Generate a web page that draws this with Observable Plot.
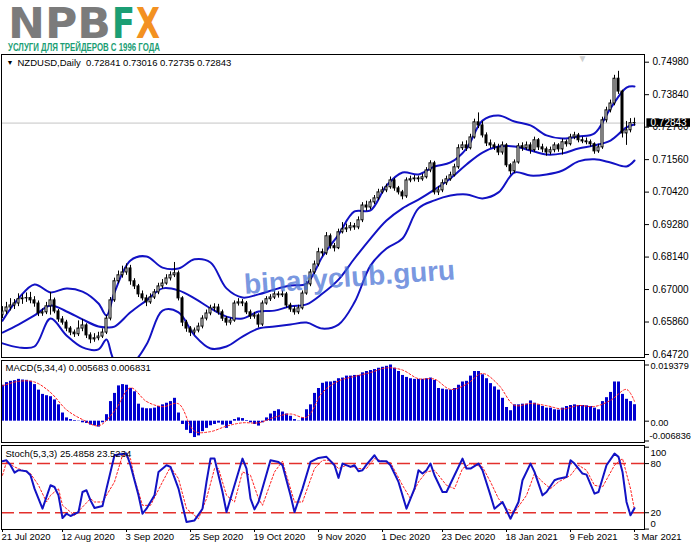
<!DOCTYPE html>
<html><head><meta charset="utf-8">
<script src="https://cdn.jsdelivr.net/npm/d3@7"></script>
<script src="https://cdn.jsdelivr.net/npm/@observablehq/plot@0.6"></script>
<style>
body{margin:0;background:#fff;}
#wrap{position:relative;width:691px;height:549px;overflow:hidden;background:#fff;font-family:"Liberation Sans",Arial,sans-serif;}
#wrap svg{position:absolute;left:0;}
#wm{position:absolute;left:244px;top:269px;font:bold 28px "Liberation Sans",Arial,sans-serif;color:rgba(70,112,212,0.72);transform:rotate(-4deg);transform-origin:left center;white-space:nowrap;pointer-events:none;}
</style></head><body><div id="wrap">
<svg width="200" height="60" style="top:0">
<text x="8" y="38" font-family="DejaVu Sans" font-weight="bold" font-size="42" fill="#7b7b7b" textLength="103" lengthAdjust="spacingAndGlyphs">NPB</text>
<text x="112" y="38" font-family="DejaVu Sans" font-weight="bold" font-size="42" fill="#1b9e74" textLength="23" lengthAdjust="spacingAndGlyphs">F</text>
<text x="136" y="38" font-family="DejaVu Sans" font-weight="bold" font-size="42" fill="#f39121" textLength="24" lengthAdjust="spacingAndGlyphs">X</text>
<text x="8" y="51" font-family="Liberation Sans" font-weight="bold" font-size="11" fill="#1b9e74" textLength="152" lengthAdjust="spacingAndGlyphs">УСЛУГИ ДЛЯ ТРЕЙДЕРОВ С 1996 ГОДА</text>
</svg>
</div>
<script>
// ---- price candles (NZDUSD daily) ----
const open = [0.6610,0.6623,0.6637,0.6644,0.6651,0.6666,0.6669,0.6670,0.6662,0.6651,
0.6616,0.6620,0.6641,0.6662,0.6623,0.6595,0.6584,0.6563,0.6549,0.6543,
0.6563,0.6574,0.6539,0.6525,0.6529,0.6535,0.6549,0.6598,0.6662,0.6729,
0.6750,0.6760,0.6774,0.6729,0.6711,0.6683,0.6669,0.6655,0.6672,0.6690,
0.6711,0.6721,0.6739,0.6750,0.6757,0.6669,0.6584,0.6563,0.6549,0.6556,
0.6570,0.6598,0.6616,0.6634,0.6637,0.6620,0.6598,0.6584,0.6591,0.6651,
0.6655,0.6651,0.6620,0.6605,0.6609,0.6577,0.6651,0.6666,0.6672,0.6683,
0.6680,0.6683,0.6644,0.6630,0.6620,0.6634,0.6686,0.6718,0.6760,0.6788,
0.6831,0.6827,0.6887,0.6852,0.6845,0.6901,0.6911,0.6915,0.6922,0.6918,
0.6943,0.6995,0.6988,0.7006,0.7020,0.7041,0.7048,0.7059,0.7083,0.7055,
0.7041,0.7027,0.7083,0.7087,0.7090,0.7087,0.7094,0.7118,0.7143,0.7041,
0.7048,0.7073,0.7087,0.7101,0.7129,0.7196,0.7206,0.7196,0.7234,0.7287,
0.7276,0.7241,0.7213,0.7206,0.7199,0.7181,0.7206,0.7136,0.7115,0.7146,
0.7203,0.7196,0.7206,0.7189,0.7224,0.7199,0.7192,0.7181,0.7189,0.7206,
0.7192,0.7217,0.7210,0.7234,0.7241,0.7224,0.7220,0.7217,0.7210,0.7185,
0.7199,0.7294,0.7329,0.7353,0.7440,0.7395,0.7248,0.7259,0.72841];
const high = [0.6640,0.6655,0.6668,0.6665,0.6685,0.6682,0.6688,0.6690,0.6675,0.6660,
0.6632,0.6655,0.6690,0.6670,0.6630,0.6605,0.6592,0.6570,0.6558,0.6590,
0.6595,0.6580,0.6548,0.6545,0.6550,0.6562,0.6610,0.6672,0.6740,0.6765,
0.6782,0.6790,0.6785,0.6738,0.6718,0.6695,0.6680,0.6685,0.6700,0.6722,
0.6735,0.6752,0.6762,0.6795,0.6765,0.6675,0.6592,0.6570,0.6565,0.6582,
0.6608,0.6628,0.6645,0.6650,0.6648,0.6628,0.6605,0.6600,0.6660,0.6668,
0.6665,0.6658,0.6628,0.6620,0.6615,0.6660,0.6675,0.6682,0.6695,0.6692,
0.6695,0.6690,0.6652,0.6640,0.6645,0.6695,0.6728,0.6770,0.6800,0.6845,
0.6842,0.6900,0.6895,0.6862,0.6912,0.6935,0.6930,0.6935,0.6932,0.6955,
0.7005,0.7010,0.7015,0.7030,0.7052,0.7060,0.7070,0.7095,0.7090,0.7062,
0.7048,0.7092,0.7098,0.7100,0.7098,0.7105,0.7128,0.7152,0.7150,0.7062,
0.7085,0.7098,0.7112,0.7140,0.7208,0.7218,0.7222,0.7245,0.7298,0.7320,
0.7290,0.7250,0.7225,0.7215,0.7210,0.7218,0.7212,0.7142,0.7155,0.7212,
0.7215,0.7218,0.7215,0.7235,0.7230,0.7210,0.7200,0.7200,0.7215,0.7212,
0.7228,0.7225,0.7245,0.7252,0.7248,0.7235,0.7232,0.7225,0.7215,0.7210,
0.7305,0.7340,0.7365,0.7452,0.7466,0.7400,0.7290,0.7300,0.73016];
const low = [0.6598,0.6612,0.6625,0.6630,0.6640,0.6648,0.6655,0.6650,0.6638,0.6605,
0.6606,0.6612,0.6610,0.6615,0.6585,0.6575,0.6552,0.6538,0.6532,0.6535,
0.6552,0.6528,0.6510,0.6515,0.6520,0.6528,0.6542,0.6590,0.6655,0.6720,
0.6740,0.6750,0.6715,0.6700,0.6672,0.6660,0.6640,0.6648,0.6665,0.6682,
0.6702,0.6715,0.6730,0.6742,0.6660,0.6570,0.6550,0.6535,0.6540,0.6548,
0.6562,0.6590,0.6608,0.6622,0.6610,0.6588,0.6572,0.6575,0.6585,0.6642,
0.6640,0.6612,0.6595,0.6596,0.6565,0.6570,0.6645,0.6658,0.6665,0.6670,
0.6672,0.6635,0.6620,0.6610,0.6612,0.6628,0.6680,0.6710,0.6752,0.6780,
0.6815,0.6820,0.6842,0.6832,0.6840,0.6895,0.6900,0.6905,0.6908,0.6910,
0.6935,0.6975,0.6980,0.6998,0.7012,0.7035,0.7040,0.7052,0.7045,0.7032,
0.7015,0.7020,0.7075,0.7078,0.7076,0.7080,0.7088,0.7110,0.7032,0.7030,
0.7040,0.7065,0.7080,0.7095,0.7122,0.7188,0.7185,0.7190,0.7228,0.7265,
0.7232,0.7202,0.7195,0.7188,0.7170,0.7172,0.7128,0.7102,0.7108,0.7140,
0.7185,0.7188,0.7175,0.7182,0.7188,0.7180,0.7168,0.7172,0.7180,0.7182,
0.7172,0.7200,0.7204,0.7226,0.7215,0.7212,0.7208,0.7200,0.7175,0.7178,
0.7192,0.7285,0.7320,0.7345,0.7385,0.7232,0.7206,0.7250,0.72735];
const close = [0.6623,0.6637,0.6644,0.6651,0.6666,0.6669,0.6670,0.6662,0.6651,0.6616,
0.6620,0.6641,0.6662,0.6623,0.6595,0.6584,0.6563,0.6549,0.6543,0.6563,
0.6574,0.6539,0.6525,0.6529,0.6535,0.6549,0.6598,0.6662,0.6729,0.6750,
0.6760,0.6774,0.6729,0.6711,0.6683,0.6669,0.6655,0.6672,0.6690,0.6711,
0.6721,0.6739,0.6750,0.6757,0.6669,0.6584,0.6563,0.6549,0.6556,0.6570,
0.6598,0.6616,0.6634,0.6637,0.6620,0.6598,0.6584,0.6591,0.6651,0.6655,
0.6651,0.6620,0.6605,0.6609,0.6577,0.6651,0.6666,0.6672,0.6683,0.6680,
0.6683,0.6644,0.6630,0.6620,0.6634,0.6686,0.6718,0.6760,0.6788,0.6831,
0.6827,0.6887,0.6852,0.6845,0.6901,0.6911,0.6915,0.6922,0.6918,0.6943,
0.6995,0.6988,0.7006,0.7020,0.7041,0.7048,0.7059,0.7083,0.7055,0.7041,
0.7027,0.7083,0.7087,0.7090,0.7087,0.7094,0.7118,0.7143,0.7041,0.7048,
0.7073,0.7087,0.7101,0.7129,0.7196,0.7206,0.7196,0.7234,0.7287,0.7276,
0.7241,0.7213,0.7206,0.7199,0.7181,0.7206,0.7136,0.7115,0.7146,0.7203,
0.7196,0.7206,0.7189,0.7224,0.7199,0.7192,0.7181,0.7189,0.7206,0.7192,
0.7217,0.7210,0.7234,0.7241,0.7224,0.7220,0.7217,0.7210,0.7185,0.7199,
0.7294,0.7329,0.7353,0.7440,0.7395,0.7248,0.7259,0.7284,0.72843];

// ---- Bollinger bands (read at these bar indices) ----
const bbIdx = [0,4,8,12,16,20,24,26,28,32,36,40,44,48,52,56,60,64,68,72,76,80,84,88,92,96,100,104,108,112,116,120,124,128,132,136,140,144,148,152,156,158];
const bbUpper = [0.6591,0.6669,0.6718,0.6690,0.6704,0.6693,0.6651,0.6609,0.6690,0.6802,0.6816,
0.6777,0.6774,0.6806,0.6795,0.6704,0.6672,0.6683,0.6700,0.6714,0.6721,
0.6816,0.6893,0.6974,0.6978,0.7065,0.7111,0.7104,0.7132,0.7146,0.7195,
0.7293,0.7311,0.7290,0.7276,0.7241,0.7230,0.7237,0.7248,0.7336,0.7409,0.7413];
const bbMid = [0.6549,0.6577,0.6609,0.6644,0.6623,0.6595,0.6570,0.6567,0.6570,0.6620,0.6662,
0.6704,0.6697,0.6669,0.6634,0.6605,0.6598,0.6623,0.6626,0.6641,0.6648,
0.6686,0.6735,0.6809,0.6879,0.6942,0.6985,0.7016,0.7051,0.7090,0.7139,
0.7181,0.7202,0.7202,0.7188,0.7174,0.7178,0.7195,0.7206,0.7223,0.7269,0.7279];
const bbLower = [0.6511,0.6497,0.6500,0.6598,0.6539,0.6497,0.6490,0.6525,0.6451,0.6437,0.6507,
0.6626,0.6620,0.6539,0.6493,0.6500,0.6535,0.6563,0.6570,0.6577,0.6584,
0.6563,0.6577,0.6655,0.6784,0.6844,0.6879,0.6985,0.7013,0.7030,0.7034,
0.7020,0.7041,0.7111,0.7100,0.7104,0.7118,0.7150,0.7157,0.7146,0.7132,0.7153];
const priceTicks = [0.7498,0.7384,0.7270,0.7156,0.7042,0.6928,0.6814,0.6700,0.6586,0.6472];

// ---- MACD(5,34,4) ----
const macdHist = [0.01240,0.01330,0.01375,0.01397,0.01443,0.01420,0.01409,0.01375,0.01262,0.01071,
0.00924,0.00879,0.00845,0.00733,0.00564,0.00282,0.00113,0.00056,0.00023,0.00010,
-0.00056,-0.00079,-0.00135,-0.00158,-0.00203,-0.00056,0.00225,0.00676,0.00958,0.01217,
0.01262,0.01240,0.01127,0.01014,0.00586,0.00451,0.00428,0.00428,0.00451,0.00507,
0.00564,0.00620,0.00676,0.00789,0.00282,-0.00113,-0.00316,-0.00428,-0.00564,-0.00507,
-0.00361,-0.00248,-0.00158,-0.00113,-0.00068,-0.00135,-0.00248,-0.00113,0.00056,0.00113,
0.00090,0.00023,-0.00056,-0.00113,-0.00169,-0.00056,0.00113,0.00248,0.00338,0.00394,
0.00316,0.00248,0.00169,0.00056,0.00010,0.00113,0.00394,0.00564,0.00958,0.01127,
0.01307,0.01352,0.01352,0.01375,0.01465,0.01488,0.01555,0.01555,0.01578,0.01578,
0.01668,0.01713,0.01747,0.01781,0.01826,0.01860,0.01893,0.019379,0.01826,0.01713,
0.01578,0.01510,0.01465,0.01443,0.01443,0.01443,0.01465,0.01488,0.01409,0.01127,
0.01104,0.01082,0.01071,0.01127,0.01240,0.01352,0.01375,0.01555,0.01713,0.01713,
0.01600,0.01465,0.01296,0.01183,0.01071,0.00789,0.00473,0.00361,0.00564,0.00564,
0.00586,0.00586,0.00699,0.00620,0.00564,0.00507,0.00451,0.00451,0.00394,0.00383,
0.00451,0.00507,0.00541,0.00564,0.00541,0.00541,0.00530,0.00507,0.00451,0.00394,
0.00676,0.00811,0.00992,0.01352,0.01352,0.00924,0.00755,0.00676,0.005683];
const macdSigIdx = [0,4,8,12,16,20,24,28,32,36,40,44,48,52,56,60,64,68,72,76,80,84,88,92,96,100,104,108,112,116,120,124,128,132,136,140,144,148,152,156,158];
const macdSig = [0.01217,0.01375,0.01352,0.00992,0.00394,0.00056,-0.00158,0.00350,0.01150,0.00680,
0.00500,0.00600,-0.00345,-0.00360,-0.00170,-0.00056,-0.00056,0.00135,0.00248,0.00135,
0.00990,0.01386,0.01544,0.01677,0.01840,0.01764,0.01465,0.01451,0.01096,0.01274,
0.01645,0.01254,0.00547,0.00609,0.00536,0.00420,0.00538,0.00507,0.00718,0.01096,0.006831];
const macdTicks = [0.019379, 0, -0.006836];
const macdTickLabels = ["0.019379", "0.00", "-0.006836"];

// ---- Stochastic(5,3,3) ----
const stochKIdx = [0,1,2,3,4,6,7,8,10,12,13,14,15,16,17,19,20,21,22,23,25,26,28,29,31,32,34,35,36,38,39,41,42,44,46,48,50,51,52,53,55,56,58,60,61,62,63,64,67,69,70,72,73,75,77,79,81,83,84,85,87,88,89,90,91,93,94,96,97,99,101,103,104,105,106,107,108,110,111,113,115,116,117,119,120,122,123,125,127,129,130,132,133,135,136,138,139,141,142,143,145,146,148,149,151,153,154,155,156,157,158];
const stochK = [82.9,84,78,69,72,70.6,65.7,49.4,25,53.5,51.4,41.2,13.5,18.8,16,20.8,45.3,47.4,35.1,25.7,28.2,49.4,90.2,91,92.2,78,41.2,18.8,24.9,41.2,69.8,78,75.9,49.4,8.6,10.6,24.9,57.6,86.1,86.1,45.3,20.8,53.5,86.1,73.9,37.2,24.1,33.1,84.1,82,78,41.2,20.8,49.4,82,86.9,88.2,78,62.5,80,75.9,78,70.6,71.8,78.8,90.2,82.9,82.9,78,57.6,24.9,49.4,71.8,67.8,71.8,80,65.7,45.3,45.3,65.7,86.1,73.9,73.9,80,71.8,41.2,24.9,33.1,12.7,33.1,59.6,80,69.8,41.2,45.3,59.6,61.6,63.7,84.1,80,67.8,66.5,43.3,45.3,78,92.2,88.2,69.8,33.1,16.8,25.4858];
const stochDIdx = [0,1,3,5,7,9,11,12,14,15,18,20,22,23,25,28,30,32,33,35,37,40,42,44,46,49,51,53,54,56,58,60,62,64,65,68,70,71,73,75,78,80,82,84,86,89,91,93,95,97,100,102,104,106,108,111,113,115,117,120,122,124,126,128,131,133,135,137,139,142,144,146,148,150,153,155,157,158];
const stochD = [65.7,82,75.9,71.8,67.8,53.5,33.1,41.2,49.4,29,16.8,27,37.2,33.1,33.1,57.6,90.2,86.1,61.6,29,29,57.6,75.9,61.6,24.9,12.7,37.2,73.9,73.9,41.2,33.1,69.8,65.7,37.2,29,69.8,82.9,65.7,33.1,33.1,73.9,84.1,84.1,73.9,78,73.9,73.9,86.1,82.9,81.2,53.5,37.2,57.6,69.8,71.8,53.5,49.4,73.9,80,75.9,57.6,37.2,24.9,20.8,41.2,67.8,57.6,49.4,57.6,65.7,78,71.8,53.5,51.4,78,86.1,49.4,23.5234];
const stochLevels = [20, 80];

// ---- time axis ----
const dateIdx = [0,15,31,47,63,79,95,110,126,142,158];
const dateLabels = ["21 Jul 2020","12 Aug 2020","3 Sep 2020","25 Sep 2020","19 Oct 2020","9 Nov 2020","1 Dec 2020","23 Dec 2020","18 Jan 2021","9 Feb 2021","3 Mar 2021"];

const headerText = "NZDUSD,Daily\u00a0\u00a00.72841 0.73016 0.72735 0.72843";
const macdText = "MACD(5,34,4) 0.005683 0.006831";
const stochText = "Stoch(5,3,3) 25.4858 23.5234";

// ---------------------------------------------------------------
const wrap = document.getElementById("wrap");
const W = 691;
const xDomain = [-0.25, 160.5];
const FONT = "'Liberation Sans', Arial, sans-serif";
const style = {fontFamily: FONT, fontSize: "10px", color: "#000", background: "transparent", overflow: "visible"};
const BLUE = "#1212c4";
const common = {width: W, marginLeft: 1, marginRight: 47, style};

const bars = close.map((c, i) => ({i, o: open[i], h: high[i], l: low[i], c}));
const bands = bbIdx.map((i, k) => ({i, u: bbUpper[k], m: bbMid[k], lo: bbLower[k]}));
const lastClose = close[close.length - 1];

const mainPlot = Plot.plot({
  ...common, height: 305, marginTop: 1, marginBottom: 1, insetTop: 7.7, insetBottom: 3,
  x: {domain: xDomain, axis: null},
  y: {domain: [0.6472, 0.7498], axis: null},
  marks: [
    Plot.ruleY([lastClose], {stroke: "#c4c4c4"}),
    Plot.line(bands, {x: "i", y: "u", stroke: BLUE, strokeWidth: 2, curve: "catmull-rom", clip: true}),
    Plot.line(bands, {x: "i", y: "m", stroke: BLUE, strokeWidth: 2, curve: "catmull-rom", clip: true}),
    Plot.line(bands, {x: "i", y: "lo", stroke: BLUE, strokeWidth: 2, curve: "catmull-rom", clip: true}),
    Plot.ruleX(bars, {x: "i", y1: "l", y2: "h", stroke: "#000", clip: true}),
    Plot.rect(bars, {x1: d => d.i - 0.25, x2: d => d.i + 0.25, y1: "o", y2: "c",
      fill: d => d.c >= d.o ? "#fff" : "#000", stroke: "#000", clip: true}),
    Plot.frame({stroke: "#000"}),
    Plot.axisY(priceTicks, {anchor: "right", label: null, tickSize: 4, tickPadding: 4, tickFormat: d => d.toFixed(5), fontSize: 10}),
    Plot.rect([lastClose], {x1: 161.1, x2: 172, y1: d => d - 0.0015, y2: d => d + 0.0015, fill: "#000"}),
    Plot.text([lastClose], {y: d => d, frameAnchor: "right", dx: 6, textAnchor: "start", text: d => d.toFixed(5), fill: "#fff", fontSize: 10}),
    Plot.text(["\u25BC"], {frameAnchor: "top-left", dx: 5, dy: 6, lineAnchor: "top", textAnchor: "start", fontSize: 7, fill: "#000"}),
    Plot.text([headerText], {frameAnchor: "top-left", dx: 16, dy: 5, lineAnchor: "top", textAnchor: "start", fontSize: 9.5}),
    Plot.text(["\u25BC"], {frameAnchor: "top-right", dx: -62, dy: 0, lineAnchor: "top", textAnchor: "middle", fontSize: 10, fill: "#cfcfcf"})
  ]
});
mainPlot.style.top = "53px";
wrap.appendChild(mainPlot);

const macdPlot = Plot.plot({
  ...common, height: 84, marginTop: 1, marginBottom: 1, insetTop: 4.5, insetBottom: 1.5,
  x: {domain: xDomain, axis: null},
  y: {domain: [-0.006836, 0.019379], axis: null},
  marks: [
    Plot.ruleX(macdHist.map((v, i) => ({i, v})), {x: "i", y1: 0, y2: "v", stroke: "#0000d0", strokeWidth: 3}),
    Plot.line(macdSigIdx.map((i, k) => ({i, v: macdSig[k]})), {x: "i", y: "v", stroke: "#ff2020", strokeWidth: 1, strokeDasharray: "2,2", curve: "catmull-rom"}),
    Plot.frame({stroke: "#000"}),
    Plot.axisY(macdTicks, {anchor: "right", label: null, tickSize: 4, tickFormat: () => ""}),
    Plot.text(macdTicks.slice(0, 2), {y: d => d, frameAnchor: "right", dx: 6, dy: 1.5, textAnchor: "start", text: (d, i) => macdTickLabels[i], fontSize: 9.2}),
    Plot.text(macdTicks.slice(2), {y: d => d, frameAnchor: "right", dx: 5, dy: -4.5, textAnchor: "start", text: (d, i) => macdTickLabels[i + 2], fontSize: 9.2}),
    Plot.text([macdText], {frameAnchor: "top-left", dx: 4, dy: 4, lineAnchor: "top", textAnchor: "start", fontSize: 9.5})
  ]
});
macdPlot.style.top = "359px";
wrap.appendChild(macdPlot);

const stochPlot = Plot.plot({
  ...common, height: 105, marginTop: 1, marginBottom: 20, insetTop: 1.7, insetBottom: 0.4,
  x: {domain: xDomain, axis: null},
  y: {domain: [0, 100], axis: null},
  marks: [
    Plot.ruleY(stochLevels, {stroke: "#e3302c", strokeWidth: 1.5, strokeDasharray: "13,5"}),
    Plot.line(stochDIdx.map((i, k) => ({i, v: stochD[k]})), {x: "i", y: "v", stroke: "#ff2020", strokeWidth: 1, strokeDasharray: "2,2"}),
    Plot.line(stochKIdx.map((i, k) => ({i, v: stochK[k]})), {x: "i", y: "v", stroke: BLUE, strokeWidth: 2}),
    Plot.frame({stroke: "#000"}),
    Plot.axisY([100, 80, 20, 0], {anchor: "right", label: null, tickSize: 4, tickFormat: () => ""}),
    Plot.text([100], {y: d => d, frameAnchor: "right", dx: 6, dy: 6, textAnchor: "start", text: d => String(d), fontSize: 9.5}),
    Plot.text(stochLevels, {y: d => d, frameAnchor: "right", dx: 6, textAnchor: "start", text: d => String(d), fontSize: 9.5}),
    Plot.text([0], {y: d => d, frameAnchor: "right", dx: 6, dy: -5, textAnchor: "start", text: d => String(d), fontSize: 9.5}),
    Plot.axisX(dateIdx, {anchor: "bottom", label: null, tickSize: 3, tickFormat: () => ""}),
    Plot.text(dateIdx, {x: d => d, frameAnchor: "bottom", dy: 4, dx: -1, lineAnchor: "top", textAnchor: "start", text: (d, i) => dateLabels[i], fontSize: 9.5}),
    Plot.text([stochText], {frameAnchor: "top-left", dx: 4, dy: 5, lineAnchor: "top", textAnchor: "start", fontSize: 9.5})
  ]
});
stochPlot.style.top = "444px";
wrap.appendChild(stochPlot);

const wm = document.createElement("div");
wm.id = "wm";
wm.textContent = "binaryclub.guru";
wrap.appendChild(wm);
</script>
</body></html>
